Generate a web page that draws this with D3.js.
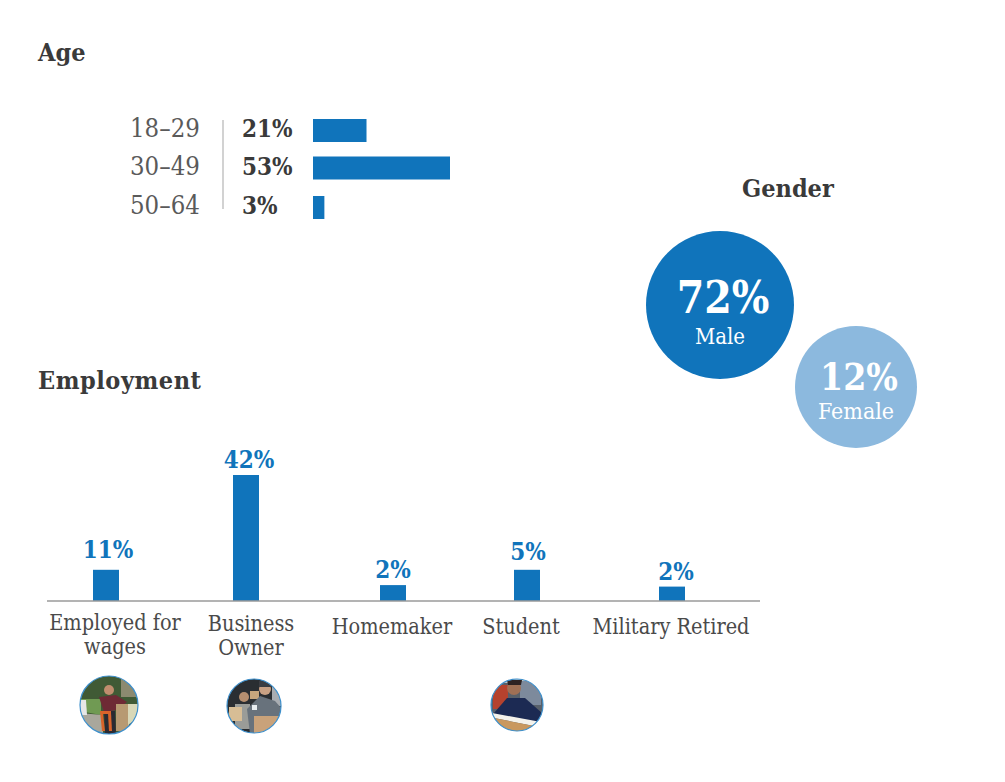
<!DOCTYPE html>
<html>
<head>
<meta charset="utf-8">
<script src="https://cdnjs.cloudflare.com/ajax/libs/d3/7.8.5/d3.min.js"></script>
<style>
body { margin: 0; background: #fff; }
text { font-family: "DejaVu Serif Condensed", "DejaVu Serif", serif; }
.title { font-size: 25px; font-weight: bold; fill: #3a3a3a; }
.ageLabel { font-size: 25.5px; fill: #5a5a5a; }
.ageValue { font-size: 24px; font-weight: bold; fill: #3a3a3a; }
.empValue { font-size: 24px; font-weight: bold; fill: #1074bb; text-anchor: middle; }
.empLabel { font-size: 21.5px; fill: #4a4a4a; text-anchor: middle; }
</style>
</head>
<body>
<svg id="chart" width="1005" height="782"></svg>
<script>
var ageGroups = ["18–29", "30–49", "50–64"];
var ageLabels = ["21%", "53%", "3%"];
var ageBars = [20.7, 53, 4.4];

var genders = ["Male", "Female"];
var genderValues = [72, 12];

var jobs = ["Employed for wages", "Business Owner", "Homemaker", "Student", "Military Retired"];
var jobLines = [["Employed for", "wages"], ["Business", "Owner"], ["Homemaker"], ["Student"], ["Military Retired"]];
var jobLabels = ["11%", "42%", "2%", "5%", "2%"];
var jobBars = [10.4, 42, 5.3, 10.4, 4.8];

var blue = "#1074bb";
var svg = d3.select("#chart");

function title(text, x, y, len) {
    var t = svg.append("text").attr("class", "title").attr("x", x).attr("y", y).text(text);
    if (len) t.attr("textLength", len);
}
title("Age", 38, 61);
title("Gender", 742, 197);
title("Employment", 38, 389, 163);

// age bars
var ageX = d3.scaleLinear().domain([0, 53]).range([313, 450]);
var ageY = d3.scaleOrdinal().domain(ageGroups).range([119, 156.5, 196]);
var ageRows = svg.selectAll(".ageRow").data(ageGroups).enter().append("g").attr("class", "ageRow");

ageRows.append("rect")
    .attr("x", ageX(0))
    .attr("y", function (d) { return ageY(d); })
    .attr("height", 23)
    .attr("width", function (d, i) { return ageX(ageBars[i]) - ageX(0); })
    .attr("fill", blue);
ageRows.append("text").attr("class", "ageLabel")
    .attr("x", 130)
    .attr("y", function (d) { return ageY(d) + 18; })
    .text(function (d) { return d; });
ageRows.append("text").attr("class", "ageValue")
    .attr("x", 242)
    .attr("y", function (d) { return ageY(d) + 18; })
    .text(function (d, i) { return ageLabels[i]; });

svg.append("line")
    .attr("x1", 223).attr("x2", 223)
    .attr("y1", 120).attr("y2", 209)
    .attr("stroke", "#a5a5a5").attr("stroke-width", 1);

// gender bubbles
var bubbleR = d3.scaleLinear().domain([12, 72]).range([61, 74]);
var bubbleX = d3.scalePoint().domain(genders).range([720, 856]);
var bubbleY = d3.scalePoint().domain(genders).range([305, 387]);
var bubbleFill = d3.scaleOrdinal().domain(genders).range([blue, "#8cb9de"]);
var bubbleSize = d3.scaleOrdinal().domain(genders).range([44, 37]);
var bubbleNameSize = d3.scaleOrdinal().domain(genders).range([22, 23]);
var bubbleValueDy = d3.scaleOrdinal().domain(genders).range([8, 3]);
var bubbleNameDy = d3.scaleOrdinal().domain(genders).range([39, 32]);
var bubbleTextDx = d3.scaleOrdinal().domain(genders).range([3, 3]);

var bubbles = svg.selectAll(".bubble").data(genders).enter().append("g")
    .attr("class", "bubble")
    .attr("transform", function (d) { return "translate(" + bubbleX(d) + "," + bubbleY(d) + ")"; });
bubbles.append("circle")
    .attr("r", function (d, i) { return bubbleR(genderValues[i]); })
    .attr("fill", function (d) { return bubbleFill(d); });
bubbles.append("text")
    .attr("text-anchor", "middle").attr("fill", "#fff").attr("font-weight", "bold")
    .attr("font-size", function (d) { return bubbleSize(d); })
    .attr("x", function (d) { return bubbleTextDx(d); })
    .attr("y", function (d) { return bubbleValueDy(d); })
    .text(function (d, i) { return genderValues[i] + "%"; });
bubbles.append("text")
    .attr("text-anchor", "middle").attr("fill", "#fff")
    .attr("font-size", function (d) { return bubbleNameSize(d); })
    .attr("y", function (d) { return bubbleNameDy(d); })
    .text(function (d) { return d; });

// employment bars
var jobX = d3.scaleOrdinal().domain(jobs).range([106, 246, 393, 527, 672]);
var jobValueX = d3.scaleOrdinal().domain(jobs).range([108, 249, 393, 528, 676]);
var jobValueGap = d3.scaleOrdinal().domain(jobs).range([12, 7, 7, 10, 7]);
var jobLabelX = d3.scaleOrdinal().domain(jobs).range([115, 251, 392, 521, 671]);
var jobLabelY = d3.scaleOrdinal().domain(jobs).range([630, 631, 634, 634, 634]);
var jobY = d3.scaleLinear().domain([0, 42]).range([601, 475]);
var barWidth = 26;

var jobGroups = svg.selectAll(".job").data(jobs).enter().append("g").attr("class", "job");
jobGroups.append("rect")
    .attr("x", function (d) { return jobX(d) - barWidth / 2; })
    .attr("y", function (d, i) { return jobY(jobBars[i]); })
    .attr("width", barWidth)
    .attr("height", function (d, i) { return jobY(0) - jobY(jobBars[i]); })
    .attr("fill", blue);
jobGroups.append("text").attr("class", "empValue")
    .attr("x", function (d) { return jobValueX(d); })
    .attr("y", function (d, i) { return jobY(jobBars[i]) - jobValueGap(d); })
    .text(function (d, i) { return jobLabels[i]; });
jobGroups.each(function (d, i) {
    d3.select(this).selectAll(".empLabel").data(jobLines[i]).enter().append("text")
        .attr("class", "empLabel")
        .attr("x", jobLabelX(d))
        .attr("y", function (l, j) { return jobLabelY(d) + j * 24; })
        .text(function (l) { return l; });
});

svg.append("line")
    .attr("x1", 47).attr("x2", 760)
    .attr("y1", 601).attr("y2", 601)
    .attr("stroke", "#9a9a9a").attr("stroke-width", 1.5);

// round photos under the labels, only sketched: the originals are pictures
var defs = svg.append("defs");
defs.append("filter").attr("id", "soft")
    .append("feGaussianBlur").attr("stdDeviation", 0.6);

function photo(id, cx, cy, r, bg, shapes) {
    defs.append("clipPath").attr("id", id)
        .append("circle").attr("r", r);
    var g = svg.append("g").attr("transform", "translate(" + cx + "," + cy + ")");
    var inner = g.append("g").attr("clip-path", "url(#" + id + ")")
        .append("g").attr("filter", "url(#soft)");
    inner.append("circle").attr("r", r + 2).attr("fill", bg);
    shapes.forEach(function (s) {
        if (s.r) {
            inner.append("circle").attr("cx", s.p[0]).attr("cy", s.p[1]).attr("r", s.r).attr("fill", s.c);
        } else {
            inner.append("polygon").attr("points", s.p.join(" ")).attr("fill", s.c);
        }
    });
    g.append("circle").attr("r", r).attr("fill", "none")
        .attr("stroke", "#3d8fcb").attr("stroke-width", 1.2);
}

photo("photo1", 109, 705, 29, "#3f5a35", [
    {c: "#8c8a70", p: [[12, -26], [30, -26], [30, -8], [12, -8]]},
    {c: "#6f9a52", p: [[-30, -6], [-8, -6], [-8, 10], [-30, 6]]},
    {c: "#a9a79c", p: [[-30, 8], [-6, 10], [-6, 30], [-30, 30]]},
    {c: "#e6e6e6", p: [[-29, -5], [-23, -5], [-22, 10], [-29, 10]]},
    {c: "#2b2b33", p: [[-5, 6], [6, 6], [7, 30], [-4, 30]]},
    {c: "#6e2a35", p: [[-10, -8], [7, -10], [18, -3], [8, 5], [-5, 7]]},
    {c: "#c08d6e", p: [0, -15], r: 5},
    {c: "#d9642a", p: [[-9, 6], [2, 6], [2, 9], [-6, 9], [-4, 26], [-7, 26]]},
    {c: "#d9642a", p: [[-1, 8], [2, 8], [3, 26], [0, 26]]},
    {c: "#b79a72", p: [[7, -1], [20, -1], [20, 26], [7, 26]]},
    {c: "#d8d8b8", p: [[19, -1], [30, -1], [30, 12], [19, 20]]}
]);

photo("photo2", 254, 706, 27, "#2c2d31", [
    {c: "#a9adb2", p: [[18, -28], [30, -28], [30, 0], [18, 0]]},
    {c: "#c7a67d", p: [[-4, -15], [5, -15], [5, -7], [-4, -7]]},
    {c: "#9a9c98", p: [[-19, -2], [-4, -2], [-4, 23], [-19, 23]]},
    {c: "#b58f70", p: [-10, -9], r: 5},
    {c: "#d7bd95", p: [[-25, 1], [-12, 1], [-12, 15], [-25, 15]]},
    {c: "#68727c", p: [[-7, 3], [6, -10], [21, -5], [28, 3], [26, 28], [-4, 28]]},
    {c: "#c9a184", p: [11, -17], r: 6},
    {c: "#3a3d42", p: [[5, -25], [18, -25], [17, -19], [5, -19]]},
    {c: "#e8edf0", p: [[-2, -1], [3, -1], [3, 4], [-2, 4]]},
    {c: "#c9a27a", p: [[0, 10], [25, 10], [25, 28], [0, 28]]}
]);

photo("photo3", 517, 705, 26, "#59606a", [
    {c: "#c9c9c9", p: [[-28, -28], [28, -28], [28, -22], [-28, -22]]},
    {c: "#b5432f", p: [[-24, -20], [-9, -20], [-9, 4], [-24, 4]]},
    {c: "#7d8a9c", p: [[3, -24], [24, -24], [24, 0], [3, 0]]},
    {c: "#1d2b52", p: [[-23, 8], [-10, -7], [8, -7], [25, 8], [25, 18], [-23, 9]]},
    {c: "#a06f55", p: [-3, -17], r: 7},
    {c: "#2d2420", p: [[-10, -25], [5, -25], [4, -20], [-9, -20]]},
    {c: "#f4f2ec", p: [[-25, 8], [24, 17], [22, 22], [-23, 13]]},
    {c: "#c9985f", p: [[-23, 13], [22, 22], [14, 28], [-13, 28]]}
]);
</script>
</body>
</html>
